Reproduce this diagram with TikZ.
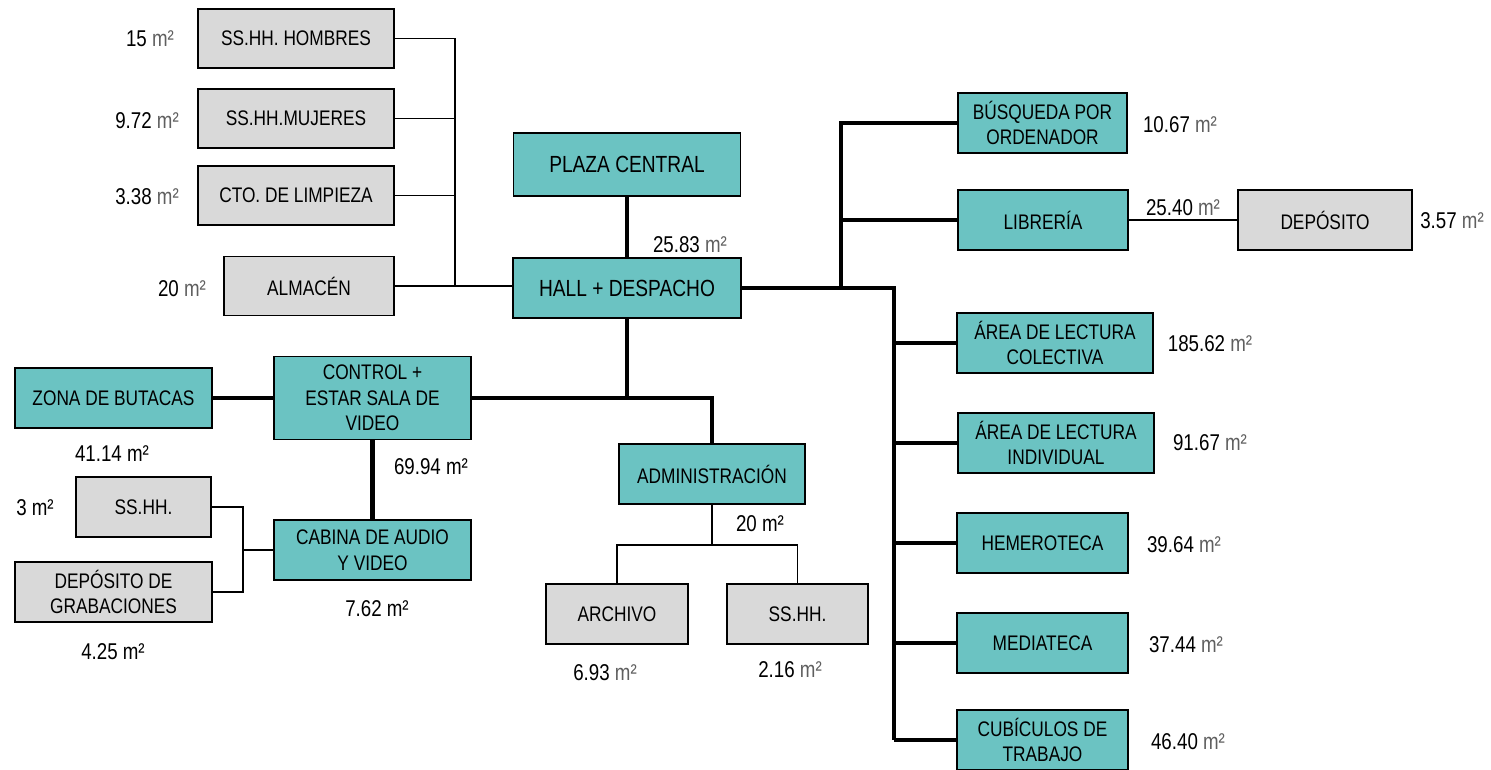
\documentclass[tikz,border=0pt]{standalone}
\usepackage{fontspec}
\setmainfont{Liberation Sans}[FakeStretch=0.82]
\usepackage{xcolor}
\usetikzlibrary{calc, positioning}

\definecolor{tealbox}{RGB}{107,195,194}
\definecolor{greybox}{RGB}{217,217,217}
\definecolor{msqgray}{RGB}{95,95,95}
\newcommand{\msq}{\textcolor{msqgray}{m²}}
\newcommand{\msqk}{m²}

\begin{document}
\begin{tikzpicture}[x=0.02cm,y=-0.02cm,
                    every node/.style={font=\fontsize{13}{15}\selectfont,align=center,inner sep=0pt},
                    room/.style={draw=black,line width=1.1pt,minimum height=1.2cm,font=\fontsize{12}{14.5}\selectfont},
                    main room/.style={room,fill=tealbox},
                    side room/.style={room,fill=greybox},
                    big room/.style={main room,font=\fontsize{13.3}{15}\selectfont},
                    thick link/.style={line width=2.3pt},
                    thin link/.style={line width=0.85pt}]

  \useasboundingbox (0,0) rectangle (1491,769);

  % left services
  \node[side room,minimum width=3.92cm,minimum height=1.18cm] (hombres) at (296,38.5) {SS.HH. HOMBRES};
  \node[side room,minimum width=3.92cm,minimum height=1.18cm] (mujeres) at (296,118.5) {SS.HH.MUJERES};
  \node[side room,minimum width=3.92cm,minimum height=1.18cm] (limpieza) at (296,195.5) {CTO. DE LIMPIEZA};
  \node[side room,minimum width=3.4cm,minimum height=1.18cm] (almacen) at (309,286) {ALMACÉN};

  \node (lhombres) at (150,39) {15 \msq};
  \node (lmujeres) at (147,121) {9.72 \msq};
  \node (llimpieza) at (147,197) {3.38 \msq};
  \node (lalmacen) at (182,289) {20 \msq};

  % centre
  \node[big room,minimum width=4.54cm,minimum height=1.26cm] (plaza) at (627,164.5) {PLAZA CENTRAL};
  \node[big room,minimum width=4.56cm] (hall) at (627,288) {HALL + DESPACHO};
  \node (lhall) at (690,245) {25.83 \msq};

  % right wing
  \node[main room,minimum width=3.38cm] (busqueda) at (1042.5,123) {BÚSQUEDA POR\\ORDENADOR};
  \node[main room,minimum width=3.4cm] (libreria) at (1043,220) {LIBRERÍA};
  \node[side room,minimum width=3.48cm] (deposito) at (1325,220) {DEPÓSITO};
  \node[main room,minimum width=3.92cm] (colectiva) at (1055,343) {ÁREA DE LECTURA\\COLECTIVA};
  \node[main room,minimum width=3.92cm] (individual) at (1056,443) {ÁREA DE LECTURA\\INDIVIDUAL};
  \node[main room,minimum width=3.42cm] (hemeroteca) at (1042.5,543) {HEMEROTECA};
  \node[main room,minimum width=3.42cm] (mediateca) at (1042.5,643) {MEDIATECA};
  \node[main room,minimum width=3.42cm] (cubiculos) at (1042.5,740) {CUBÍCULOS DE\\TRABAJO};

  \node (lbusqueda) at (1180,125) {10.67 \msq};
  \node (llibreria) at (1183,208) {25.40 \msq};
  \node (ldeposito) at (1452,221) {3.57 \msq};
  \node (lcolectiva) at (1210,344) {185.62 \msq};
  \node (lindividual) at (1210,443) {91.67 \msq};
  \node (lhemeroteca) at (1184,545) {39.64 \msq};
  \node (lmediateca) at (1186,645) {37.44 \msq};
  \node (lcubiculos) at (1188,742) {46.40 \msq};

  % video wing
  \node[main room,minimum width=3.94cm] (zona) at (113.5,398) {ZONA DE BUTACAS};
  \node[main room,minimum width=3.94cm,minimum height=1.66cm] (control) at (372.5,398) {CONTROL +\\ESTAR SALA DE\\VIDEO};
  \node[main room,minimum width=3.94cm] (cabina) at (372.5,550) {CABINA DE AUDIO\\Y VIDEO};
  \node[side room,minimum width=2.7cm] (sshha) at (143.5,507) {SS.HH.};
  \node[side room,minimum width=3.94cm] (grabaciones) at (113.5,592) {DEPÓSITO DE\\GRABACIONES};

  \node (lzona) at (112,454) {41.14 \msqk};
  \node (lcontrol) at (431,467) {69.94 \msqk};
  \node (lcabina) at (377,609) {7.62 \msqk};
  \node (lsshha) at (35,508) {3 \msqk};
  \node (lgrabaciones) at (113,652) {4.25 \msqk};

  % administration
  \node[main room,minimum width=3.72cm] (admin) at (712,474) {ADMINISTRACIÓN};
  \node[side room,minimum width=2.84cm] (archivo) at (617,614) {ARCHIVO};
  \node[side room,minimum width=2.82cm] (sshhb) at (797.5,614) {SS.HH.};

  \node (ladmin) at (760,524) {20 \msqk};
  \node (larchivo) at (605,673) {6.93 \msq};
  \node (lsshhb) at (790,670) {2.16 \msq};

  % junction points
  \coordinate (lbus) at (455,286);
  \coordinate (rbusa) at (841,288);
  \coordinate (rbusb) at (894,288);
  \coordinate (vbus) at (243,550);
  \coordinate (abus) at (712,545);

  % thin links
  \draw[thin link] (hombres.east) -- (hombres.east -| lbus) -- (lbus);
  \draw[thin link] (mujeres.east) -- (mujeres.east -| lbus);
  \draw[thin link] (limpieza.east) -- (limpieza.east -| lbus);
  \draw[thin link] (almacen.east) -- (almacen.east -| hall.west);
  \draw[thin link] (libreria.east) -- (deposito.west);
  \draw[thin link] (sshha.east) -- (sshha.east -| vbus) -- (grabaciones.east -| vbus) -- (grabaciones.east);
  \draw[thin link] (vbus) -- (cabina.west);
  \draw[thin link] (admin.south) -- (abus);
  \draw[thin link] (archivo.north) -- (archivo.north |- abus) -- (sshhb.north |- abus) -- (sshhb.north);

  % thick links
  \draw[thick link] (plaza.south) -- (hall.north);
  \draw[thick link] (hall.east) -- (rbusb) -- (rbusb |- cubiculos.west);
  \draw[thick link] (rbusa) -- (rbusa |- busqueda.west) -- (busqueda.west);
  \draw[thick link] (rbusa |- libreria.west) -- (libreria.west);
  \foreach \r in {colectiva,individual,hemeroteca,mediateca,cubiculos}
    \draw[thick link] (rbusb |- \r.west) -- (\r.west);
  \draw[thick link] (hall.south) -- (hall.south |- control.east);
  \draw[thick link] (control.east) -| (admin.north);
  \draw[thick link] (zona.east) -- (control.west);
  \draw[thick link] (control.south) -- (cabina.north);

\end{tikzpicture}
\end{document}
